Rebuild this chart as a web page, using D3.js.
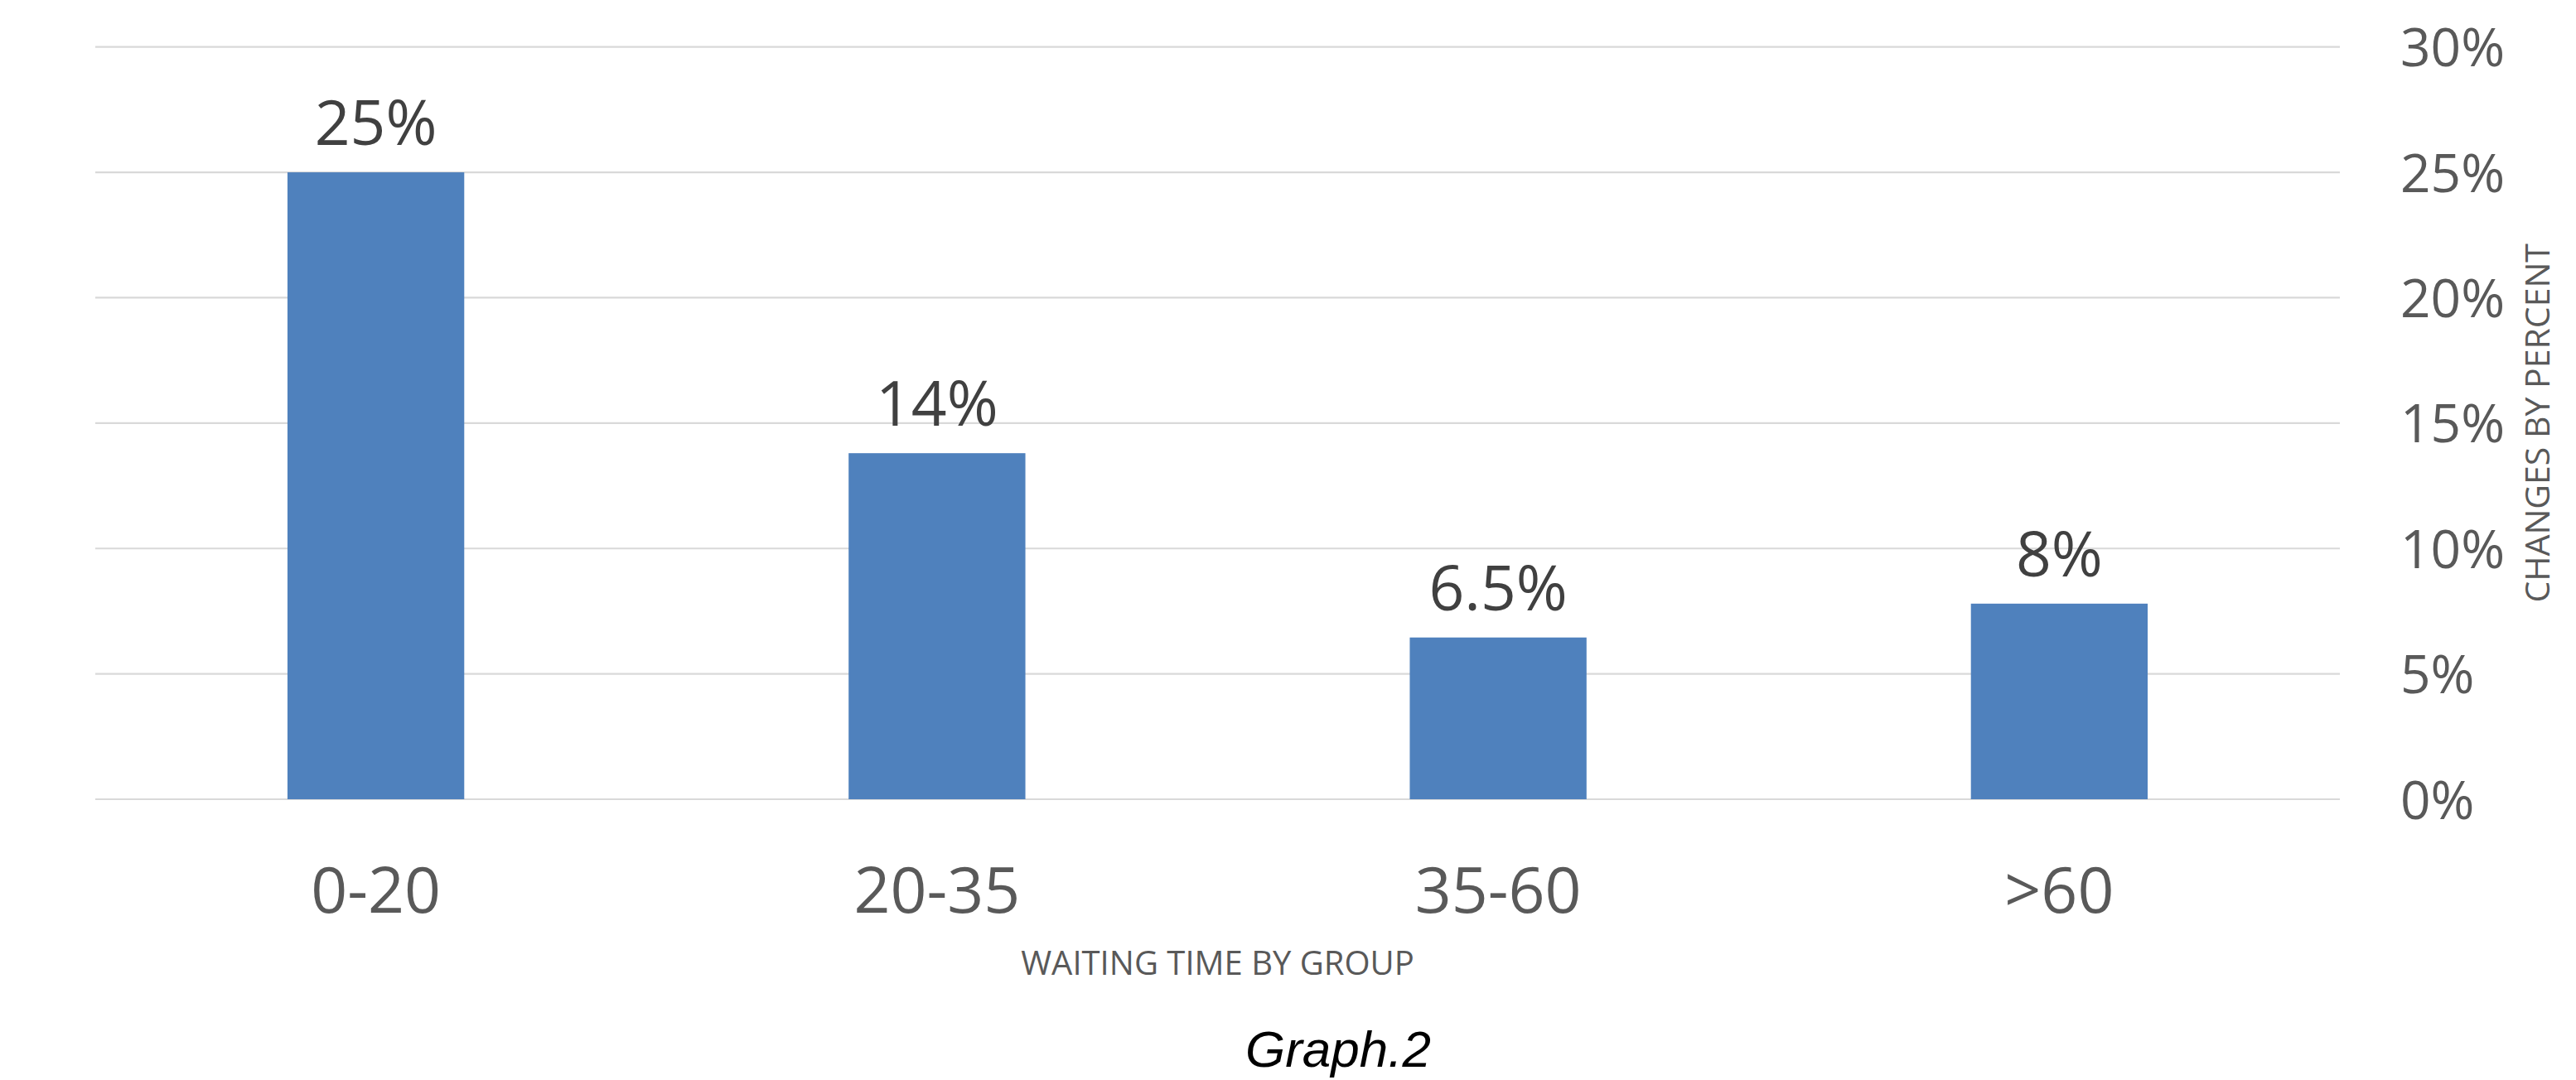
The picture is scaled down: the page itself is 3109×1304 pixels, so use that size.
<!DOCTYPE html>
<html>
<head>
<meta charset="utf-8">
<script src="https://cdn.jsdelivr.net/npm/d3@7"></script>
<style>
  html, body { margin: 0; padding: 0; background: #fff; }
  #chart text { font-family: "Open Sans", sans-serif; }
</style>
</head>
<body>
<div id="chart"></div>
<script>
const W = 3109;
const H = 1304;

// data
const categories = ["0-20", "20-35", "35-60", ">60"];
const values = [25, 13.8, 6.45, 7.8];
const valueLabels = ["25%", "14%", "6.5%", "8%"];
const yTicks = [0, 5, 10, 15, 20, 25, 30];
const xTitle = "WAITING TIME BY GROUP";
const yTitle = "CHANGES BY PERCENT";
const caption = "Graph.2";

const plot = { left: 115, right: 2824, top: 56.7, bottom: 965 };

const svg = d3.select("#chart").append("svg")
    .attr("width", W)
    .attr("height", H);

const x = d3.scaleBand()
    .domain(categories)
    .range([plot.left, plot.right])
    .paddingInner(0.685)
    .paddingOuter(0.3425);

const y = d3.scaleLinear()
    .domain([0, 30])
    .range([plot.bottom, plot.top]);

// gridlines
svg.append("g")
   .selectAll("line")
   .data(yTicks)
   .enter()
   .append("line")
   .attr("x1", plot.left)
   .attr("x2", plot.right)
   .attr("y1", d => y(d))
   .attr("y2", d => y(d))
   .attr("stroke", "#d9d9d9")
   .attr("stroke-width", 2.2);

// bars
svg.append("g")
   .selectAll("rect")
   .data(values)
   .enter()
   .append("rect")
   .attr("x", (d, i) => x(categories[i]))
   .attr("width", x.bandwidth())
   .attr("y", d => y(d))
   .attr("height", d => y(0) - y(d))
   .attr("fill", "#4f81bd");

// value labels
svg.append("g")
   .selectAll("text")
   .data(values)
   .enter()
   .append("text")
   .attr("x", (d, i) => x(categories[i]) + x.bandwidth() / 2)
   .attr("y", d => y(d) - 33)
   .attr("text-anchor", "middle")
   .attr("fill", "#404040")
   .style("font-size", "75px")
   .text((d, i) => valueLabels[i]);

// right axis
const yAxis = svg.append("g")
   .attr("transform", `translate(${plot.right},0)`)
   .call(d3.axisRight(y)
           .tickValues(yTicks)
           .tickFormat(d => d + "%")
           .tickSize(0)
           .tickPadding(73));
yAxis.select(".domain").remove();
yAxis.selectAll("text")
     .attr("fill", "#595959")
     .attr("dy", "0.36em")
     .style("font-size", "64px");

// bottom axis
const xAxis = svg.append("g")
   .attr("transform", `translate(0,${plot.bottom})`)
   .call(d3.axisBottom(x).tickSize(0));
xAxis.select(".domain").remove();
xAxis.selectAll("text")
     .attr("dy", null)
     .attr("y", 137)
     .attr("fill", "#595959")
     .style("font-size", "77px");

// axis titles
svg.append("text")
   .attr("x", (plot.left + plot.right) / 2)
   .attr("y", 1177)
   .attr("text-anchor", "middle")
   .attr("fill", "#595959")
   .style("font-size", "40px")
   .text(xTitle);

svg.append("text")
   .attr("transform", `translate(3077,${(plot.top + plot.bottom) / 2}) rotate(-90)`)
   .attr("text-anchor", "middle")
   .attr("fill", "#595959")
   .style("font-size", "41px")
   .text(yTitle);

svg.append("text")
   .attr("x", 1615)
   .attr("y", 1288)
   .attr("text-anchor", "middle")
   .attr("fill", "#000")
   .style("font-family", "'Liberation Sans', Arial, sans-serif")
   .style("font-style", "italic")
   .style("font-size", "62px")
   .text(caption);
</script>
</body>
</html>
